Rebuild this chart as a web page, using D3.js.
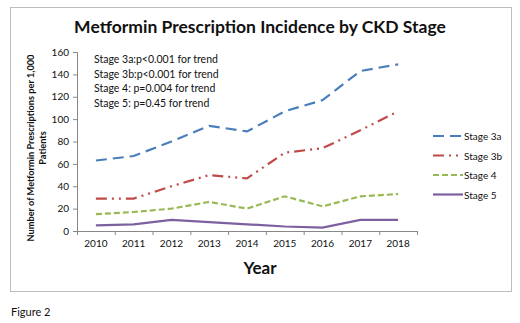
<!DOCTYPE html>
<html>
<head>
<meta charset="utf-8">
<script src="https://cdn.jsdelivr.net/npm/d3@7"></script>
<style>
  body { margin: 0; background: #fff; }
  svg text { font-family: Lato, "Open Sans", sans-serif; fill: #111; }
</style>
</head>
<body>
<div id="chart"></div>
<script>
// data
const years = ['2010','2011','2012','2013','2014','2015','2016','2017','2018'];
const stage3a = [63, 67, 80, 94, 89, 107, 117, 143, 149];
const stage3b = [29, 29, 40, 50, 47, 70, 74, 90, 107];
const stage4 = [15, 17, 20, 26, 20, 31, 22, 31, 33];
const stage5 = [5, 6, 10, 8, 6, 4, 3, 10, 10];
const seriesNames = ['Stage 3a', 'Stage 3b', 'Stage 4', 'Stage 5'];
const yTicks = [0, 20, 40, 60, 80, 100, 120, 140, 160];
const notes = [
    'Stage 3a:p<0.001 for trend',
    'Stage 3b:p<0.001 for trend',
    'Stage 4: p=0.004 for trend',
    'Stage 5: p=0.45 for trend'
];

const series = [
    {name: seriesNames[0], values: stage3a, color: '#4A7EBB', dash: '11,6'},
    {name: seriesNames[1], values: stage3b, color: '#BE4B48', dash: '11,5,2,5,2,5'},
    {name: seriesNames[2], values: stage4, color: '#98B954', dash: '6,3'},
    {name: seriesNames[3], values: stage5, color: '#7D60A0', dash: null}
];

const width = 520, height = 323;
const margin = {t: 52, l: 77, r: 103, b: 92};
const w = width - margin.l - margin.r;
const h = height - margin.t - margin.b;

const svg = d3.select('#chart').append('svg')
    .attr('width', width)
    .attr('height', height);

// outer chart frame
svg.append('rect')
    .attr('x', 10.5).attr('y', 7.5)
    .attr('width', 501).attr('height', 284)
    .attr('fill', '#fff')
    .attr('stroke', '#bdbdbd');

svg.append('text')
    .attr('x', 260).attr('y', 33)
    .attr('text-anchor', 'middle')
    .style('font-size', '17.5px')
    .style('font-weight', 'bold')
    .text('Metformin Prescription Incidence by CKD Stage');

const plot = svg.append('g')
    .attr('transform', `translate(${margin.l},${margin.t})`);

const scaleX = d3.scaleBand()
    .domain(years)
    .range([0, w]);

const scaleY = d3.scaleLinear()
    .domain([0, 160])
    .range([h, 0]);

// axes
const axisY = d3.axisLeft(scaleY)
    .tickValues(yTicks)
    .tickSize(4)
    .tickPadding(4);
const axisX = d3.axisBottom(scaleX)
    .tickSize(0)
    .tickPadding(9);

const axisYNode = plot.append('g').call(axisY);
axisYNode.select('.domain').attr('stroke', '#888');
axisYNode.selectAll('.tick line').attr('stroke', '#888');
axisYNode.selectAll('text').style('font-size', '10px').attr('fill', '#111');

const axisXNode = plot.append('g')
    .attr('transform', `translate(0,${h})`)
    .call(axisX);
axisXNode.select('.domain').attr('stroke', '#888');
axisXNode.selectAll('text').style('font-size', '10px').attr('fill', '#111');

// x ticks sit between categories
plot.append('g').selectAll('line')
    .data(years.concat(['end']))
    .join('line')
    .attr('x1', (d, i) => i * scaleX.step() + 0.5)
    .attr('x2', (d, i) => i * scaleX.step() + 0.5)
    .attr('y1', h).attr('y2', h + 4)
    .attr('stroke', '#888');

// lines
const line = d3.line()
    .x((d, i) => scaleX(years[i]) + scaleX.bandwidth() / 2)
    .y(d => scaleY(d));

plot.selectAll('.series')
    .data(series)
    .join('path')
    .attr('class', 'series')
    .attr('fill', 'none')
    .attr('stroke', d => d.color)
    .attr('stroke-width', 2.2)
    .attr('stroke-dasharray', d => d.dash)
    .attr('d', d => line(d.values));

// trend annotations
svg.append('g').selectAll('text')
    .data(notes)
    .join('text')
    .attr('x', 94)
    .attr('y', (d, i) => 63 + i * 14.5)
    .style('font-size', '10.5px')
    .text(d => d);

// legend
const legend = svg.append('g')
    .attr('transform', 'translate(433,136)');
const item = legend.selectAll('g')
    .data(series)
    .join('g')
    .attr('transform', (d, i) => `translate(0,${i * 19.5})`);
item.append('line')
    .attr('x1', 0).attr('x2', 30)
    .attr('stroke', d => d.color)
    .attr('stroke-width', 2.2)
    .attr('stroke-dasharray', d => d.dash);
item.append('text')
    .attr('x', 31).attr('y', 4)
    .style('font-size', '10px')
    .text(d => d.name);

// axis titles
const yTitle = svg.append('text')
    .attr('transform', 'translate(34,148) rotate(-90)')
    .attr('text-anchor', 'middle')
    .style('font-size', '9.2px')
    .style('font-weight', 'bold');
yTitle.append('tspan').attr('x', 0).attr('dy', 0)
    .text('Number of Metformin Prescriptions per 1,000');
yTitle.append('tspan').attr('x', 0).attr('dy', 11.5)
    .text('Patients');

svg.append('text')
    .attr('x', 260).attr('y', 274)
    .attr('text-anchor', 'middle')
    .style('font-size', '17px')
    .style('font-weight', 'bold')
    .text('Year');

svg.append('text')
    .attr('x', 11).attr('y', 316)
    .style('font-size', '11px')
    .text('Figure 2');
</script>
</body>
</html>
